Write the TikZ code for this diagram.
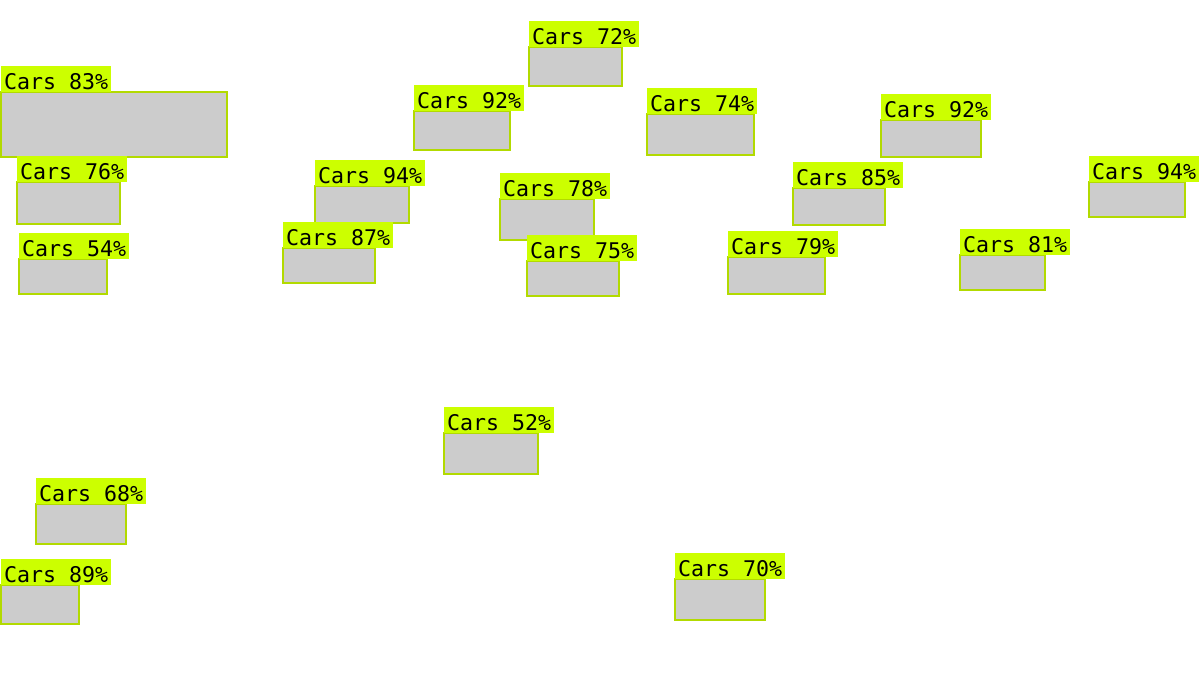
\documentclass[tikz,border=0pt]{standalone}
\usepackage{fontspec}
\setmonofont{DejaVu Sans Mono}
\definecolor{lbl}{RGB}{204,255,0}
\definecolor{edge}{RGB}{178,218,0}
\definecolor{boxfill}{RGB}{204,204,204}
\tikzset{
  detbox/.style={fill=boxfill, draw=edge, line width=1.5pt},
  detlabel/.style={fill=lbl, anchor=south west, inner xsep=2.1pt, inner ysep=0pt,
    text height=18.1pt, text depth=1.4pt, font=\ttfamily\fontsize{16.2}{16}\selectfont, text=black}
}
\newcommand{\carbox}[6]{%
  \draw[detbox] (#2,#3) rectangle (#4,#5);
  \node[detlabel] (#1) at (#2,#3) {Cars #6\%};
}
\begin{document}
\begin{tikzpicture}[x=0.75pt,y=-0.75pt]
\useasboundingbox (0,0) rectangle (1200,675);
\carbox{a}{1}{92}{227}{157}{83}
\carbox{b}{17}{182}{120}{224}{76}
\carbox{c}{19}{259}{107}{294}{54}
\carbox{d}{529}{47}{622}{86}{72}
\carbox{e}{414}{111}{510}{150}{92}
\carbox{f}{315}{186}{409}{223}{94}
\carbox{g}{283}{248}{375}{283}{87}
\carbox{h}{500}{199}{594}{240}{78}
\carbox{i}{527}{261}{619}{296}{75}
\carbox{j}{647}{114}{754}{155}{74}
\carbox{k}{881}{120}{981}{157}{92}
\carbox{l}{793}{188}{885}{225}{85}
\carbox{m}{728}{257}{825}{294}{79}
\carbox{n}{1089}{182}{1185}{217}{94}
\carbox{o}{960}{255}{1045}{290}{81}
\carbox{p}{444}{433}{538}{474}{52}
\carbox{q}{36}{504}{126}{544}{68}
\carbox{r}{1}{585}{79}{624}{89}
\carbox{s}{675}{579}{765}{620}{70}
\end{tikzpicture}
\end{document}
